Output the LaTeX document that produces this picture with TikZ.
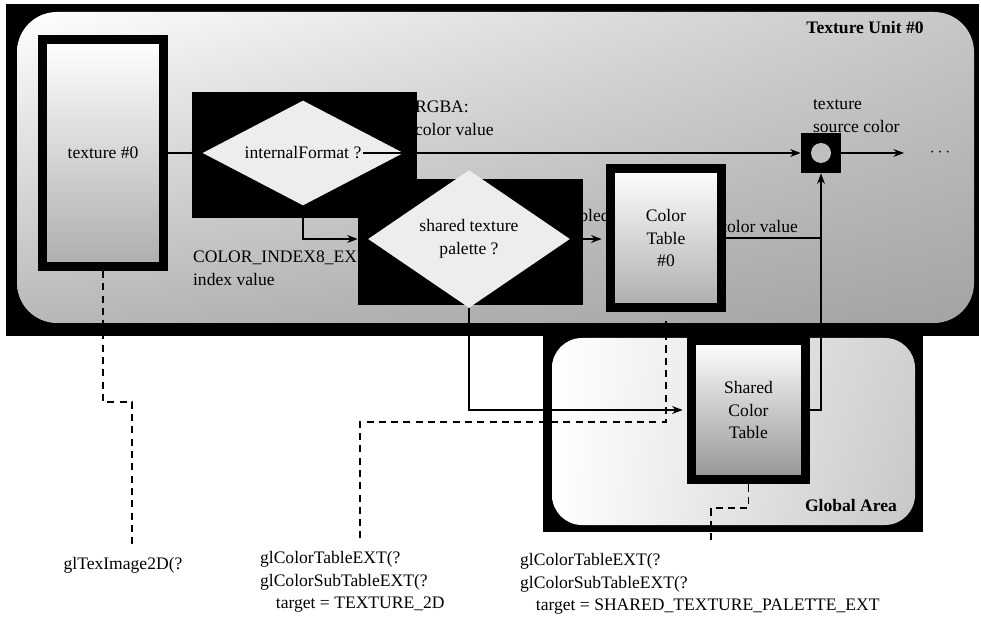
\documentclass[tikz,border=0pt]{standalone}
\usepackage{fontspec}
\setmainfont{Liberation Serif}
\usepackage{tikz}
\usetikzlibrary{shapes.geometric, positioning, arrows.meta, calc, shadings}

\begin{document}
\begin{tikzpicture}[x=0.02cm, y=-0.02cm,
    frame/.style={draw=black, line width=0.18cm, top color=white, bottom color=black!32, align=center, inner sep=0pt, font=\fontsize{10}{13}\selectfont},
    blk/.style={fill=black, inner sep=0pt, minimum width=4.5cm, minimum height=2.52cm},
    dec/.style={diamond, fill=black!7, inner sep=0pt, align=center, font=\fontsize{10}{13}\selectfont},
    lbl/.style={align=left, inner sep=1pt, font=\fontsize{10}{13}\selectfont},
    arr/.style={-{Stealth[length=6pt, width=4.5pt]}, line width=0.6pt},
    dsh/.style={dashed, dash pattern=on 4pt off 3pt, line width=0.7pt}
  ]
  \useasboundingbox (0,0) rectangle (981,618);

  % Texture unit area
  \fill[black] (6,4) rectangle (979,336);
  \shade[rounded corners=0.8cm, upper left=white, upper right=black!22, lower left=black!28, lower right=black!36] (17,12) rectangle (974,323);
  \node[font=\bfseries] (unitlbl) at (865,28) {Texture Unit \#0};

  % Global area
  \fill[black] (543,334) rectangle (923,532);
  \shade[rounded corners=0.6cm, upper left=white, upper right=black!18, lower left=white, lower right=black!22] (552,338) rectangle (915,525);
  \node[font=\bfseries] (globlbl) at (851,505) {Global Area};

  % Labels partly hidden by the boxes
  \node[lbl, anchor=west] (idxlbl) at (191,268) {COLOR\_INDEX8\_EX\\index value};
  \node[lbl, anchor=west, inner sep=0pt] (enlbl) at (579,215) {bled};
  \node[lbl, anchor=west, inner sep=0pt] (cvlbl) at (719,226) {color value};
  \node[lbl, anchor=west] (rgbalbl) at (413,118) {RGBA:\\color value};

  % Decisions
  \node[blk] (fmtbg) at (304.5,155) {};
  \node[dec, minimum width=4.02cm, minimum height=2.1cm] (fmtdia) at (303,153) {};
  \node[lbl] (fmttxt) at (303,153) {internalFormat ?};
  \node[blk] (palbg) at (470.5,242) {};
  \node[dec, minimum width=4.04cm, minimum height=2.08cm] (paldia) at (469,239) {shared texture\\palette ?};

  % Tables
  \node[frame, minimum width=2.42cm, minimum height=4.54cm] (tex) at (103,153) {texture \#0};
  \node[frame, minimum width=2.22cm, minimum height=2.78cm] (ctab) at (666,238) {Color\\Table\\\#0};
  \node[frame, bottom color=black!42, minimum width=2.28cm, minimum height=2.8cm] (shtab) at (748.5,410) {Shared\\Color\\Table};

  % Combiner
  \node[fill=black, minimum size=0.8cm, inner sep=0pt] (mix) at (821,153) {};
  \node[circle, fill=black!25, minimum size=0.4cm, inner sep=0pt] (mixdot) at (mix) {};
  \node[lbl, anchor=west] (srclbl) at (811,116) {texture\\source color};
  \node[inner sep=0pt] (dots) at (940,153) {$\cdots$};
  \coordinate (outend) at (904,153);

  % Calls
  \node[lbl] (lab1) at (123,565) {glTexImage2D(?};
  \node[lbl, anchor=north west] (lab2) at (258,549) {glColorTableEXT(?\\glColorSubTableEXT(?\\\hspace*{0.9em}target = TEXTURE\_2D};
  \node[lbl, anchor=north west] (lab3) at (518,551) {glColorTableEXT(?\\glColorSubTableEXT(?\\\hspace*{0.9em}target = SHARED\_TEXTURE\_PALETTE\_EXT};

  % Arrows
  \draw[arr] (tex.east) -- (fmtdia.west);
  \draw[arr] (fmttxt.east) -- (mix.west);
  \draw[arr] (fmtdia.south) |- (palbg.west |- paldia.west);
  \draw[arr, shorten >=2.5pt] (paldia.east) -- (paldia.east -| ctab.west);
  \draw[line width=0.6pt] (ctab.east) -- (ctab.east -| mix.south);
  \draw[arr] (shtab.east) -| (mix.south);
  \draw[arr] (mix.east) -- (outend);
  \draw[arr, shorten >=2.5pt] (paldia.south) |- (shtab.west);

  % Dashed links
  \coordinate (d1) at (132,402);
  \coordinate (d2) at (360,422);
  \coordinate (d3) at (711,508);
  \draw[dsh, shorten >=6pt] (tex.south) |- (d1) -- (d1 |- lab1.north);
  \draw[dsh, shorten <=6pt, shorten >=2.5pt] (d2 |- lab2.north) -- (d2) -| (ctab.south);
  \draw[dsh, shorten >=6pt] (shtab.south) |- (d3) -- (d3 |- lab3.north);
\end{tikzpicture}
\end{document}
